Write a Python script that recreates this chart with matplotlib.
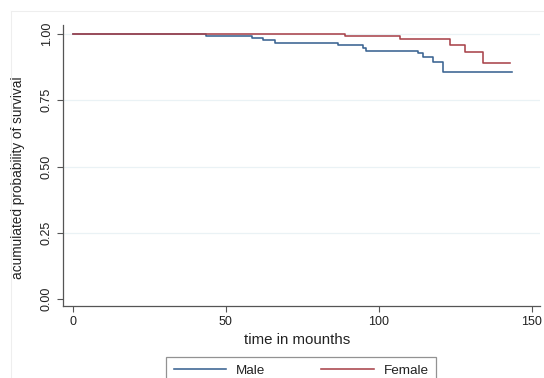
import matplotlib
matplotlib.use("Agg")
from matplotlib import pyplot as plt
from matplotlib.lines import Line2D

plt.rcParams['font.family'] = ['Liberation Sans', 'DejaVu Sans']

# Kaplan-Meier steps (months, survival)
male_t = [0, 43.4, 58.4, 62.2, 66.0, 86.7, 94.9, 95.9, 112.9, 114.5, 117.7, 121.0, 143.4]
male_s = [1.0, 0.992, 0.985, 0.976, 0.967, 0.958, 0.948, 0.937, 0.927, 0.914, 0.896, 0.858, 0.858]
female_t = [0, 88.9, 106.9, 123.4, 128.1, 133.9, 142.8]
female_s = [1.0, 0.994, 0.98, 0.958, 0.931, 0.889, 0.889]

xticks = [0, 50, 100, 150]
yticks = [0.0, 0.25, 0.5, 0.75, 1.0]
ytick_labels = ["0.00", "0.25", "0.50", "0.75", "1.00"]

male_col = "#3a6391"
female_col = "#a9434b"
axis_col = "#555555"

fig = plt.figure(figsize=(5.44, 3.78), dpi=100)
fig.patch.set_facecolor("white")

# faint outer graph-region border
fig.add_artist(Line2D([11/544, 1.0], [1 - 11/378, 1 - 11/378], color="#eeeeee", lw=0.8))
fig.add_artist(Line2D([11/544, 11/544], [0.0, 1 - 11/378], color="#eeeeee", lw=0.8))

ax = fig.add_axes([63/544, 72/378, 477/544, 281/378])
ax.set_xlim(-3.27, 152.7)
ax.set_ylim(-0.0264, 1.034)

for g in yticks[1:]:
    ax.axhline(g, color="#eaf2f5", lw=0.9, zorder=0)

ax.step(male_t, male_s, where="post", color=male_col, lw=1.15, label="Male")
ax.step(female_t, female_s, where="post", color=female_col, lw=1.15, label="Female")

for s in ["top", "right"]:
    ax.spines[s].set_visible(False)
for s in ["left", "bottom"]:
    ax.spines[s].set_color(axis_col)
    ax.spines[s].set_linewidth(0.9)

ax.set_xticks(xticks)
ax.set_yticks(yticks)
ax.set_yticklabels(ytick_labels, rotation=90, va="center")
ax.tick_params(axis="both", direction="out", length=4.5, width=0.8, color=axis_col,
               labelsize=9, labelcolor="#222222", pad=3)

ax.set_xlabel("time in mounths", fontsize=10.8, color="#222222")
ax.xaxis.set_label_coords(0.49, -0.097)
ax.set_ylabel("acumulated probability of survival", fontsize=9.8, color="#222222")
ax.yaxis.set_label_coords(-0.08, 0.455)

leg = fig.legend(loc="upper center", bbox_to_anchor=(301/544, 21/378), ncol=2,
                 fontsize=9.7, frameon=True, fancybox=False, handlelength=3.9,
                 handletextpad=0.7, columnspacing=4.2, borderpad=0.55, borderaxespad=0)
leg.get_frame().set_edgecolor("#777777")
leg.get_frame().set_linewidth(0.9)
for t in leg.get_texts():
    t.set_color("#222222")

plt.savefig("out.png", dpi=100)
plt.close()
